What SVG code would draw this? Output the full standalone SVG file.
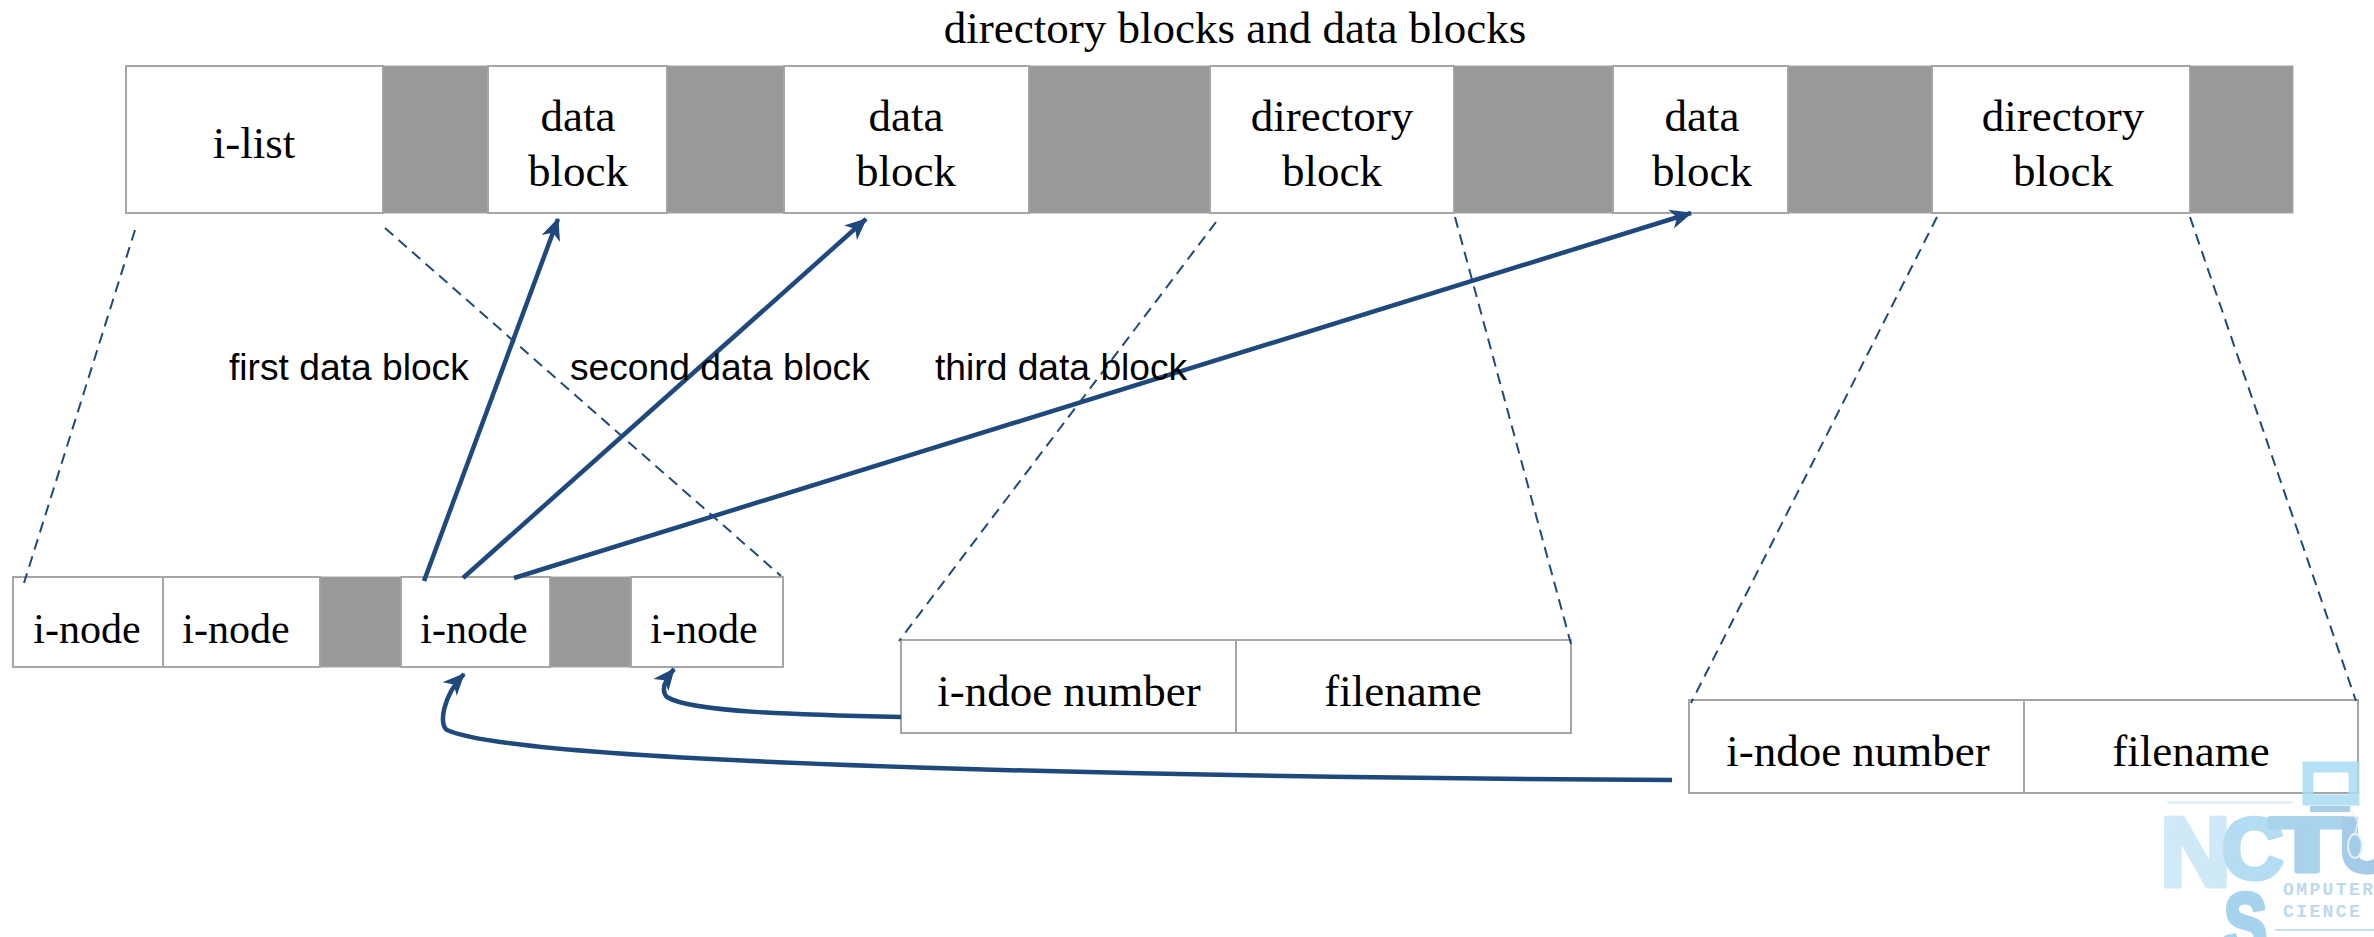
<svg xmlns="http://www.w3.org/2000/svg" width="2374" height="937" viewBox="0 0 2374 937">
<style>
.cell{fill:#fff;stroke:#a6a6a6;stroke-width:2}
.gap{fill:#999;stroke:#a6a6a6;stroke-width:1}
.t{font-family:"Liberation Serif","Times New Roman",serif;font-size:45px;fill:#000;text-anchor:middle}
.n{font-size:42px}
.s{font-family:"Liberation Sans",Arial,sans-serif;font-size:37.2px;fill:#000}
.d{fill:none;stroke:#1f497d;stroke-width:2;stroke-dasharray:11 7}
.a{fill:none;stroke:#1f497d;stroke-width:4.5;marker-end:url(#ah)}
.lg{font-family:"Liberation Sans",Arial,sans-serif;font-weight:700;stroke-width:5;stroke-linejoin:round}
.lt{font-family:"Liberation Mono",monospace;font-size:18px;font-weight:700;fill:#bcd9ee;letter-spacing:2.4px}
</style>
<defs>
<marker id="ah" markerUnits="userSpaceOnUse" markerWidth="22" markerHeight="22" refX="17" refY="8" orient="auto" viewBox="0 0 18 16"><path d="M0 0L18 8L0 16L5 8Z" fill="#1f497d"/></marker>
</defs>
<rect width="2374" height="937" fill="#fff"/>
<text id="title" class="t" x="1235" y="43">directory blocks and data blocks</text>
<g id="top-bar">
<rect class="cell" x="126" y="66" width="257" height="147"/>
<rect class="gap" x="383" y="66" width="105" height="147"/>
<rect class="cell" x="488" y="66" width="179" height="147"/>
<rect class="gap" x="667" y="66" width="117" height="147"/>
<rect class="cell" x="784" y="66" width="245" height="147"/>
<rect class="gap" x="1029" y="66" width="181" height="147"/>
<rect class="cell" x="1210" y="66" width="244" height="147"/>
<rect class="gap" x="1454" y="66" width="159" height="147"/>
<rect class="cell" x="1613" y="66" width="175" height="147"/>
<rect class="gap" x="1788" y="66" width="144" height="147"/>
<rect class="cell" x="1932" y="66" width="258" height="147"/>
<rect class="gap" x="2190" y="66" width="103" height="147"/>
</g>
<g id="top-labels">
<text class="t" x="254" y="158">i-list</text>
<text class="t" x="578" y="131">data</text><text class="t" x="578" y="186">block</text>
<text class="t" x="906" y="131">data</text><text class="t" x="906" y="186">block</text>
<text class="t" x="1332" y="131">directory</text><text class="t" x="1332" y="186">block</text>
<text class="t" x="1702" y="131">data</text><text class="t" x="1702" y="186">block</text>
<text class="t" x="2063" y="131">directory</text><text class="t" x="2063" y="186">block</text>
</g>
<g id="inode-row">
<rect class="cell" x="13" y="577" width="150" height="90"/><text class="t n" x="87" y="643">i-node</text>
<rect class="cell" x="163" y="577" width="157" height="90"/><text class="t n" x="236" y="643">i-node</text>
<rect class="gap" x="320" y="577" width="81" height="90"/>
<rect class="cell" x="401" y="577" width="149" height="90"/><text class="t n" x="474" y="643">i-node</text>
<rect class="gap" x="550" y="577" width="81" height="90"/>
<rect class="cell" x="631" y="577" width="152" height="90"/><text class="t n" x="704" y="643">i-node</text>
</g>
<g id="dir-entry-1">
<rect class="cell" x="901" y="640" width="335" height="93"/><text class="t" x="1069" y="706">i-ndoe number</text>
<rect class="cell" x="1236" y="640" width="335" height="93"/><text class="t" x="1403" y="706">filename</text>
</g>
<g id="dir-entry-2">
<rect class="cell" x="1689" y="700" width="335" height="93"/><text class="t" x="1858" y="766">i-ndoe number</text>
<rect class="cell" x="2024" y="700" width="334" height="93"/><text class="t" x="2191" y="766">filename</text>
</g>
<g id="connectors">
<path class="d" d="M135 230L24 583"/>
<path class="d" d="M385 228L781 576"/>
<path class="d" d="M1216 222L899 641"/>
<path class="d" d="M1455 217L1571 644"/>
<path class="d" d="M1937 217L1691 703"/>
<path class="d" d="M2190 217L2356 701"/>
<path class="a" d="M424 581L558 219"/>
<path class="a" d="M463 578L866 219"/>
<path class="a" d="M514 578L1691 213"/>
<path class="a" d="M901 717C800 715 690 712 667 697C660 690 665 680 674 669"/>
<path class="a" d="M1672 780C1300 778 530 768 447 730C439 725 442 697 464 674"/>
</g>
<g id="labels">
<text class="s" x="229" y="380">first data block</text>
<text class="s" x="570" y="380">second data block</text>
<text class="s" x="935" y="380">third data block</text>
</g>
<g id="logo">
<rect x="2167" y="801" width="126" height="3" fill="#e3f1f9"/>
<rect x="2308" y="767" width="46" height="33" fill="none" stroke="#a9daf2" stroke-opacity=".85" stroke-width="11"/>
<rect x="2310" y="806" width="40" height="6" fill="#a9cfe8"/>
<text class="lg" x="2160" y="886" font-size="98" fill="#cfe9f6" stroke="#cfe9f6">N</text>
<text class="lg" x="2222" y="878" font-size="85" fill="#b4ddf3" stroke="#b4ddf3">C</text>
<text class="lg" transform="translate(2270 871) scale(1.6 1)" font-size="76" fill="#a9d3ec" stroke="#a9d3ec" stroke-width="3">T</text>
<text class="lg" x="2340" y="871" font-size="76" fill="#a4cce8" stroke="#a4cce8">U</text>
<ellipse cx="2355" cy="846" rx="7" ry="12" fill="#a4cce8" stroke="#e6f2fa" stroke-width="2"/>
<path d="M2350 808L2358 822L2355 834" fill="none" stroke="#e6f2fa" stroke-width="1.5"/>
<text class="lg" transform="translate(2224 953) scale(.75 1)" font-size="86" fill="#a6d3ee" stroke="#a6d3ee">S</text>
<text class="lt" x="2283" y="895">OMPUTER</text>
<text class="lt" x="2283" y="917">CIENCE</text>
<rect x="2275" y="929" width="99" height="2" fill="#c5dff0"/>
</g>
</svg>
